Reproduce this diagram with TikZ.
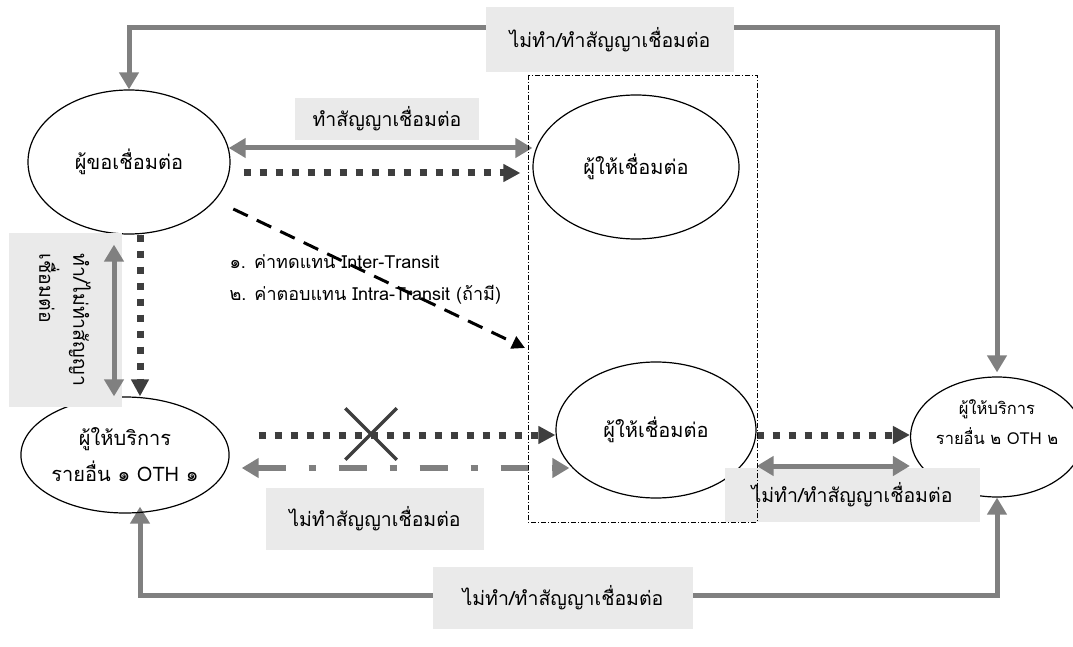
\documentclass[tikz,border=0pt]{standalone}
\usepackage{fontspec}
\setmainfont{Loma}[Script=Thai]
\usepackage{tikz}
\usetikzlibrary{arrows.meta,positioning,shapes.geometric,shapes.misc,calc}
\pgfdeclarelayer{bg}
\pgfsetlayers{bg,main}
\definecolor{linegray}{RGB}{128,128,128}
\definecolor{boxgray}{RGB}{234,234,234}
\definecolor{dotdark}{RGB}{62,62,62}

\begin{document}
\begin{tikzpicture}[x = 1pt, y = -1pt,
  party/.style = {draw, ellipse, line width=1.2pt, inner sep=0pt, align=center,
    font=\fontsize{20}{36}\selectfont},
  lbl/.style = {fill=boxgray, inner sep=0pt, font=\fontsize{19.5}{34}\selectfont},
  garrow/.style = {->, >={Triangle[length=17pt,width=19pt]}, line width=5pt, linegray},
  darrow/.style = {->, >={Triangle[length=17pt,width=17pt]}, line width=7pt, dotdark,
    dash pattern=on 7pt off 9pt},
  dasharrow/.style = {->, >={Triangle[length=13pt,width=13pt]}, line width=3pt,
    dash pattern=on 16pt off 10pt},
  ddarrow/.style = {<->, >={Triangle[length=17pt,width=19pt]}, line width=6pt, linegray,
    dash pattern=on 28pt off 23pt on 7pt off 23pt}]
\useasboundingbox (0,0) rectangle (1073,647);

% parties
\node[party, minimum width=202, minimum height=144] (req) at (129,162) {ผู้ขอเชื่อมต่อ};
\node[party, minimum width=206, minimum height=144] (top) at (636,167) {ผู้ให้เชื่อมต่อ};
\node[party, minimum width=200, minimum height=136] (prov) at (656,430) {ผู้ให้เชื่อมต่อ};
\node[party, minimum width=178, minimum height=116] (oth1) at (125,455) {ผู้ให้บริการ\\รายอื่น ๑ OTH ๑};
\node[party, minimum width=152, minimum height=120, font=\fontsize{16.5}{30}\selectfont] (oth2) at (997,437) {ผู้ให้บริการ\\รายอื่น ๒ OTH ๒\\\mbox{}};

% label boxes
\node[lbl, minimum width=248, minimum height=65] (lbltop) at (610,40) {ไม่ทำ/ทำสัญญาเชื่อมต่อ};
\node[lbl, minimum width=184, minimum height=42] (lblmid) at (387,119) {ทำสัญญาเชื่อมต่อ};
\node[lbl, rotate=-90, align=left, minimum width=174, minimum height=113] (lblleft) at (65,320) {ทำ/ไม่ทำสัญญา\\เชื่อมต่อ};
\node[lbl, minimum width=218, minimum height=62] (lblno) at (375,519) {ไม่ทำสัญญาเชื่อมต่อ};
\node[lbl, minimum width=255, minimum height=54] (lblright) at (852,495) {ไม่ทำ/ทำสัญญาเชื่อมต่อ};
\node[lbl, minimum width=260, minimum height=62] (lblbot) at (563,598) {ไม่ทำ/ทำสัญญาเชื่อมต่อ};

\node[anchor=west, font=\fontsize{18}{20}\selectfont] (pay1) at (226,262) {๑. ค่าทดแทน Inter-Transit};
\node[anchor=west, font=\fontsize{18}{20}\selectfont] (pay2) at (226,295) {๒. ค่าตอบแทน Intra-Transit (ถ้ามี)};

\coordinate (tl) at (486,28);
\coordinate (tr) at (734,28);
\coordinate (bl) at (433,595);
\coordinate (br) at (693,595);
\coordinate (dend) at (525,348);

% outer loops, behind the boxes
\begin{pgfonlayer}{bg}
\draw[garrow] (tl) -- (tr);
\draw[garrow] (tl) -| (req.north);
\draw[garrow, shorten >=4pt] (tr) -| (oth2.north);
\draw[garrow] (bl) -- (br);
\draw[garrow, shorten >=-7pt] (bl) -| ([xshift=15pt]oth1.south);
\draw[garrow] (br) -| (oth2.south);
\end{pgfonlayer}

% contracts and traffic
\draw[garrow, <->] (req.8) -- (req.8 -| top.west);
\draw[darrow] ([xshift=13pt, yshift=-11pt]req.east) -- ([xshift=-12pt, yshift=-6pt]top.west);
\draw[dasharrow, shorten <=20pt] (req.-24) -- (dend);
\draw[garrow, <->] ([xshift=-15pt, yshift=-10pt]req.south) -- ([xshift=-15pt]req.south |- oth1.north);
\draw[darrow] ([xshift=11pt]req.south) -- ([xshift=11pt]req.south |- oth1.north);
\draw[darrow] ([xshift=29pt, yshift=20pt]oth1.east) -- ([yshift=-5pt]prov.west);
\node[cross out, draw=dotdark, line width=3.5pt, minimum size=48pt] (cut) at (371,434) {};
\draw[ddarrow] ([xshift=12pt, yshift=-13pt]oth1.east) -- ([xshift=14pt, yshift=-38pt]prov.west);
\draw[darrow] ([yshift=-5pt]prov.east) -- ([yshift=-5pt]prov.east -| oth2.west);
\draw[garrow, <->] ([yshift=-36pt]prov.east) -- ([yshift=-36pt]prov.east -| oth2.west);

% group frame
\draw[line width=0.9pt, dash pattern=on 5pt off 2pt on 1pt off 2pt] (528,75) rectangle (757,522);

\end{tikzpicture}
\end{document}
